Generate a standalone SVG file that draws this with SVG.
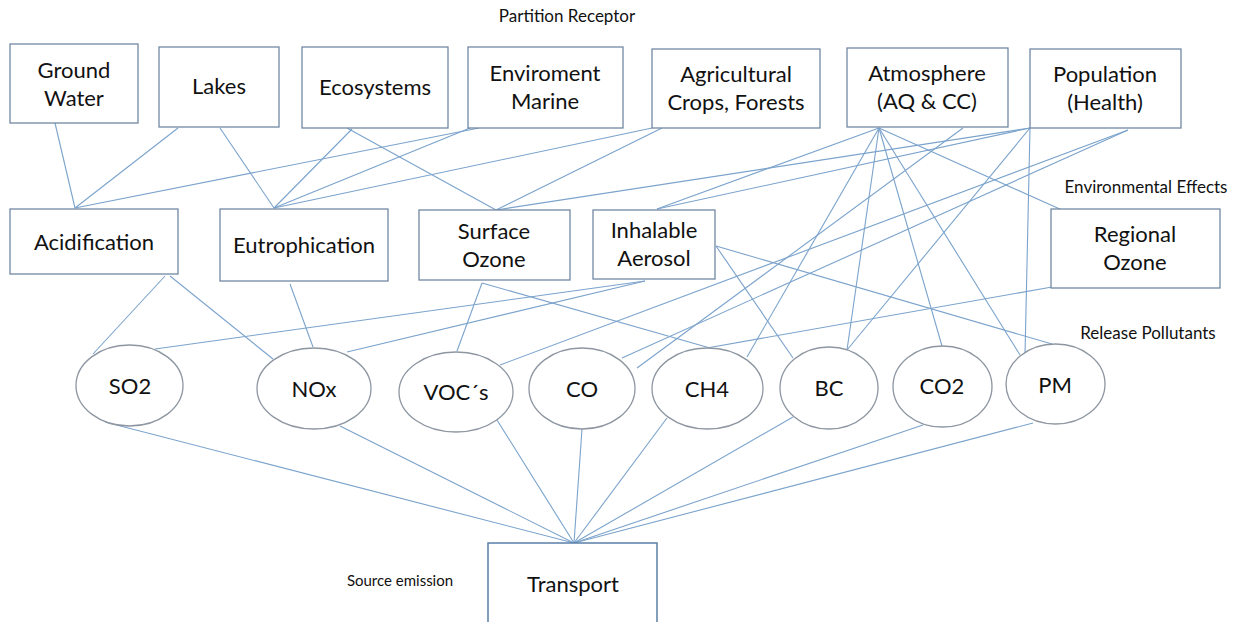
<svg xmlns="http://www.w3.org/2000/svg" width="1245" height="622" viewBox="0 0 1245 622">
<style>
  .bg { fill: #ffffff; }
  .box { fill: #ffffff; stroke: #7189a4; stroke-width: 1.3; }
  .ell { fill: #ffffff; stroke: #8d96a1; stroke-width: 1.3; }
  .tbox { fill: #ffffff; stroke: #5b7ea6; stroke-width: 1.5; }
  .t { font-family: Lato, "Open Sans", "Liberation Sans", sans-serif; font-size: 22px; fill: #111111; text-anchor: middle; }
  .lbl { font-family: Lato, "Open Sans", "Liberation Sans", sans-serif; font-size: 17px; fill: #111111; text-anchor: middle; }
  .c line { stroke: #7ba3cc; stroke-width: 1.1; fill: none; }
</style>
<rect class="bg" x="0" y="0" width="1245" height="622"/>

<g id="connectors" class="c">
  <!-- receptors to effects -->
  <line x1="55" y1="123" x2="75" y2="208"/>
  <line x1="178" y1="128" x2="75" y2="208"/>
  <line x1="479" y1="128" x2="75" y2="208"/>
  <line x1="220" y1="128" x2="274" y2="208"/>
  <line x1="352" y1="129" x2="274" y2="208"/>
  <line x1="470" y1="128" x2="274" y2="208"/>
  <line x1="652" y1="128" x2="274" y2="208"/>
  <line x1="347" y1="128" x2="496" y2="210"/>
  <line x1="662" y1="128" x2="496" y2="210"/>
  <line x1="1030" y1="128" x2="496" y2="210"/>
  <line x1="879" y1="128" x2="657" y2="209"/>
  <line x1="1030" y1="128" x2="657" y2="209"/>
  <line x1="879" y1="128" x2="1062" y2="210"/>
  <!-- receptors to pollutants -->
  <line x1="879" y1="128" x2="747" y2="357"/>
  <line x1="879" y1="128" x2="847" y2="350"/>
  <line x1="879" y1="128" x2="942" y2="346"/>
  <line x1="879" y1="128" x2="1020" y2="355"/>
  <line x1="963" y1="128" x2="637" y2="368"/>
  <line x1="1030" y1="128" x2="847" y2="350"/>
  <line x1="1030" y1="128" x2="1025" y2="355"/>
  <line x1="1128" y1="130" x2="500" y2="365"/>
  <line x1="1128" y1="130" x2="622" y2="358"/>
  <!-- effects to pollutants -->
  <line x1="165" y1="276" x2="93" y2="354"/>
  <line x1="170" y1="276" x2="273" y2="359"/>
  <line x1="290" y1="284" x2="313" y2="347"/>
  <line x1="645" y1="281" x2="155" y2="349"/>
  <line x1="645" y1="281" x2="347" y2="352"/>
  <line x1="482" y1="283" x2="457" y2="351"/>
  <line x1="482" y1="283" x2="710" y2="348"/>
  <line x1="716" y1="246" x2="793" y2="358"/>
  <line x1="716" y1="246" x2="1052" y2="344"/>
  <line x1="1052" y1="287" x2="707" y2="348"/>
  <!-- pollutants to source -->
  <line x1="105" y1="422" x2="574" y2="543"/>
  <line x1="340" y1="426" x2="574" y2="543"/>
  <line x1="497" y1="420" x2="574" y2="543"/>
  <line x1="582" y1="429" x2="574" y2="543"/>
  <line x1="667" y1="418" x2="574" y2="543"/>
  <line x1="793" y1="417" x2="574" y2="543"/>
  <line x1="923" y1="425" x2="574" y2="543"/>
  <line x1="1033" y1="423" x2="574" y2="543"/>
</g>

<!-- section labels -->
<text class="lbl" x="567" y="22">Partition Receptor</text>
<text class="lbl" x="1146" y="193">Environmental Effects</text>
<text class="lbl" x="1148" y="339">Release Pollutants</text>
<text class="lbl" x="400" y="586" style="font-size:15px">Source emission</text>

<!-- receptors -->
<g id="ground-water"><rect class="box" x="10" y="44" width="128" height="79"/><text class="t" x="74" y="78">Ground</text><text class="t" x="74" y="106">Water</text></g>
<g id="lakes"><rect class="box" x="159" y="47" width="120" height="80"/><text class="t" x="219" y="94">Lakes</text></g>
<g id="ecosystems"><rect class="box" x="302" y="47" width="146" height="81"/><text class="t" x="375" y="95">Ecosystems</text></g>
<g id="enviroment-marine"><rect class="box" x="468" y="47" width="155" height="81"/><text class="t" x="545" y="81">Enviroment</text><text class="t" x="545" y="109">Marine</text></g>
<g id="agricultural"><rect class="box" x="652" y="49" width="168" height="79"/><text class="t" x="736" y="82">Agricultural</text><text class="t" x="736" y="110">Crops, Forests</text></g>
<g id="atmosphere"><rect class="box" x="847" y="48" width="161" height="79"/><text class="t" x="927" y="81">Atmosphere</text><text class="t" x="927" y="109">(AQ &amp; CC)</text></g>
<g id="population"><rect class="box" x="1030" y="49" width="151" height="79"/><text class="t" x="1105" y="82">Population</text><text class="t" x="1105" y="110">(Health)</text></g>

<!-- effects -->
<g id="acidification"><rect class="box" x="10" y="209" width="168" height="65"/><text class="t" x="94" y="250">Acidification</text></g>
<g id="eutrophication"><rect class="box" x="220" y="209" width="168" height="72"/><text class="t" x="304" y="253">Eutrophication</text></g>
<g id="surface-ozone"><rect class="box" x="419" y="210" width="151" height="70"/><text class="t" x="494" y="239">Surface</text><text class="t" x="494" y="267">Ozone</text></g>
<g id="inhalable-aerosol"><rect class="box" x="593" y="210" width="122" height="69"/><text class="t" x="654" y="238">Inhalable</text><text class="t" x="654" y="266">Aerosol</text></g>
<g id="regional-ozone"><rect class="box" x="1051" y="209" width="169" height="79"/><text class="t" x="1135" y="242">Regional</text><text class="t" x="1135" y="270">Ozone</text></g>

<!-- pollutants -->
<g id="so2"><ellipse class="ell" cx="129.5" cy="385.5" rx="53.5" ry="40.5"/><text class="t" x="130" y="394">SO2</text></g>
<g id="nox"><ellipse class="ell" cx="314" cy="388.5" rx="57" ry="40.5"/><text class="t" x="314" y="397">NOx</text></g>
<g id="vocs"><ellipse class="ell" cx="456" cy="392" rx="57" ry="40"/><text class="t" x="456" y="400">VOC´s</text></g>
<g id="co"><ellipse class="ell" cx="582" cy="388.5" rx="53" ry="40.5"/><text class="t" x="582" y="397">CO</text></g>
<g id="ch4"><ellipse class="ell" cx="707.5" cy="388.5" rx="55.5" ry="40.5"/><text class="t" x="707" y="397">CH4</text></g>
<g id="bc"><ellipse class="ell" cx="829" cy="388" rx="49" ry="41"/><text class="t" x="829" y="396">BC</text></g>
<g id="co2"><ellipse class="ell" cx="942.5" cy="386.5" rx="49.5" ry="40.5"/><text class="t" x="942" y="394">CO2</text></g>
<g id="pm"><ellipse class="ell" cx="1055.5" cy="384" rx="49.5" ry="40"/><text class="t" x="1055" y="393">PM</text></g>

<!-- source -->
<g id="transport"><rect class="tbox" x="488" y="543" width="169" height="84"/><text class="t" x="573" y="592">Transport</text></g>
</svg>
